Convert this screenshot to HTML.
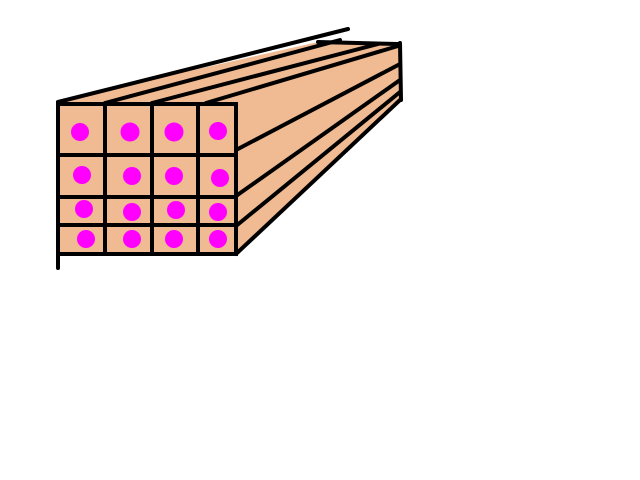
<!DOCTYPE html>
<html><head><style>body{margin:0;background:#fff}svg{display:block}</style></head><body>
<svg width="640" height="480" xmlns="http://www.w3.org/2000/svg">
<polygon points="57,104 60,100 318,42 398,44 401,100 236,255 57,255" fill="#F0BA92"/>
<g stroke="#000" stroke-width="4" fill="none" stroke-linecap="round">
<line x1="58" y1="102" x2="348" y2="29"/>
<line x1="318" y1="42" x2="398" y2="44"/>
<line x1="400" y1="43" x2="401" y2="100"/>
<line x1="105" y1="103" x2="340" y2="40"/>
<line x1="152" y1="103" x2="378" y2="44"/>
<line x1="206" y1="103" x2="398" y2="46"/>
<line x1="236" y1="104" x2="236" y2="254"/>
<line x1="236" y1="150" x2="400" y2="64"/>
<line x1="236" y1="196" x2="400" y2="80"/>
<line x1="236" y1="226" x2="400" y2="92"/>
<line x1="236" y1="254" x2="400" y2="100"/>
<rect x="58" y="104" width="178" height="150"/>
<line x1="58" y1="254" x2="58" y2="268"/>
<line x1="105" y1="104" x2="105" y2="254"/>
<line x1="152" y1="104" x2="152" y2="254"/>
<line x1="198" y1="104" x2="198" y2="254"/>
<line x1="58" y1="155" x2="236" y2="155"/>
<line x1="58" y1="197" x2="236" y2="197"/>
<line x1="58" y1="225" x2="236" y2="225"/>
</g>
<g fill="#FF00FF">
<circle cx="80" cy="132" r="9"/><circle cx="130" cy="132" r="9.5"/><circle cx="174" cy="132" r="9.5"/><circle cx="218" cy="131" r="9"/>
<circle cx="82" cy="175" r="9"/><circle cx="132" cy="176" r="9"/><circle cx="174" cy="176" r="9"/><circle cx="220" cy="178" r="9"/>
<circle cx="84" cy="209" r="9"/><circle cx="132" cy="212" r="9"/><circle cx="176" cy="210" r="9"/><circle cx="218" cy="212" r="9"/>
<circle cx="86" cy="239" r="9"/><circle cx="132" cy="239" r="9"/><circle cx="174" cy="239" r="9"/><circle cx="218" cy="239" r="9"/>
</g>
</svg>
</body></html>
